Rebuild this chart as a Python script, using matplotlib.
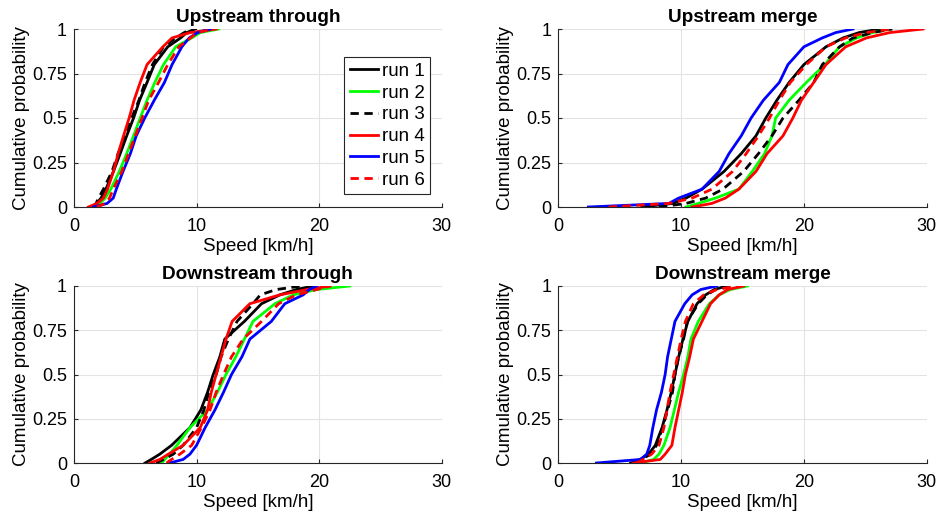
import matplotlib
matplotlib.use("Agg")
import matplotlib.pyplot as plt

plt.rcParams['font.family'] = ['Liberation Sans', 'DejaVu Sans']

# cumulative probability levels at which speeds were read
prob_levels = [0, 0.02, 0.05, 0.1, 0.2, 0.3, 0.4, 0.5, 0.6, 0.7, 0.8, 0.9, 0.95, 0.98, 1.0]
run_labels = ['run 1', 'run 2', 'run 3', 'run 4', 'run 5', 'run 6']
panel_titles = ['Upstream through', 'Upstream merge', 'Downstream through', 'Downstream merge']
x_ticks = [0, 10, 20, 30]
y_ticks = [0, 0.25, 0.5, 0.75, 1]
y_tick_labels = ['0', '0.25', '0.5', '0.75', '1']

# speed quantiles [km/h] per panel and run
up_through = {
    'run 1': [1.7, 1.86, 2.2, 2.6, 3.22, 3.77, 4.3, 4.86, 5.35, 5.96, 6.55, 7.65, 8.7, 9.2, 9.9],
    'run 2': [1.6, 2.1, 2.55, 3.0, 3.7, 4.3, 4.86, 5.4, 5.96, 6.6, 7.3, 8.3, 9.6, 10.3, 11.8],
    'run 3': [1.6, 1.8, 2.0, 2.4, 3.1, 3.6, 4.2, 4.7, 5.3, 5.8, 6.4, 7.3, 8.3, 9.0, 9.6],
    'run 4': [1.17, 1.86, 2.4, 2.73, 3.22, 3.6, 4.04, 4.5, 4.9, 5.4, 5.96, 7.25, 8.0, 9.5, 11.6],
    'run 5': [1.6, 2.7, 3.2, 3.45, 4.0, 4.6, 5.08, 5.77, 6.55, 7.38, 8.0, 8.8, 9.4, 10.1, 11.1],
    'run 6': [1.86, 2.55, 2.9, 3.2, 3.9, 4.45, 5.0, 5.55, 6.1, 6.9, 7.65, 8.55, 9.5, 10.05, 11.4],
}
up_merge = {
    'run 1': [6.8, 9.3, 10.4, 11.7, 13.5, 14.9, 16.1, 16.9, 17.8, 18.8, 20.0, 21.8, 23.2, 24.5, 26.2],
    'run 2': [10.4, 11.4, 12.8, 14.7, 15.8, 16.8, 17.4, 17.7, 18.8, 20.2, 21.7, 22.9, 24.3, 25.6, 27.0],
    'run 3': [8.2, 10.4, 12.0, 13.4, 15.1, 16.3, 17.4, 18.3, 19.6, 20.8, 21.5, 22.9, 24.0, 25.6, 27.2],
    'run 4': [10.9, 12.5, 13.6, 14.7, 16.1, 17.0, 18.3, 19.1, 19.8, 20.8, 21.8, 23.4, 25.1, 27.0, 29.7],
    'run 5': [2.45, 9.0, 9.8, 11.7, 13.1, 13.9, 14.9, 15.7, 16.7, 18.0, 18.7, 20.0, 21.5, 22.6, 24.0],
    'run 6': [4.1, 9.0, 10.9, 12.5, 14.2, 15.3, 16.3, 17.2, 18.0, 18.9, 20.2, 21.8, 23.4, 25.1, 27.2],
}
down_through = {
    'run 1': [5.8, 6.3, 7.0, 7.96, 9.46, 10.35, 10.9, 11.36, 11.9, 12.3, 13.9, 15.3, 16.8, 18.15, 19.5],
    'run 2': [7.15, 7.4, 7.8, 8.4, 9.46, 10.9, 11.7, 12.4, 13.2, 13.9, 14.6, 16.4, 17.9, 19.8, 22.5],
    'run 3': [6.7, 7.3, 8.1, 8.9, 10.0, 10.6, 11.0, 11.6, 12.0, 12.6, 13.3, 14.6, 15.2, 16.5, 18.6],
    'run 4': [6.2, 7.0, 7.7, 8.9, 10.3, 10.9, 11.2, 11.6, 12.0, 12.4, 12.9, 14.35, 16.8, 19.0, 20.9],
    'run 5': [7.8, 8.9, 9.46, 10.0, 10.7, 11.5, 12.2, 12.85, 13.7, 14.35, 16.1, 17.2, 18.7, 19.2, 19.8],
    'run 6': [7.55, 7.96, 8.64, 9.6, 10.4, 11.1, 11.6, 12.2, 12.85, 13.8, 15.3, 16.7, 18.15, 19.8, 20.9],
}
down_merge = {
    'run 1': [5.9, 6.67, 7.35, 7.9, 8.45, 8.85, 9.2, 9.5, 9.8, 10.15, 10.55, 11.3, 12.0, 12.7, 13.7],
    'run 2': [6.7, 7.76, 8.2, 8.6, 9.1, 9.45, 9.8, 10.2, 10.55, 10.8, 11.4, 12.3, 13.1, 14.0, 15.4],
    'run 3': [6.1, 6.8, 7.5, 8.0, 8.5, 8.9, 9.3, 9.5, 9.8, 10.2, 10.5, 11.4, 12.1, 12.8, 14.0],
    'run 4': [6.1, 8.3, 8.7, 9.25, 9.5, 9.8, 10.1, 10.35, 10.7, 11.0, 11.7, 12.4, 13.1, 13.8, 15.1],
    'run 5': [3.1, 6.7, 7.2, 7.45, 7.7, 8.0, 8.4, 8.7, 8.9, 9.2, 9.5, 10.3, 10.9, 11.6, 12.9],
    'run 6': [6.4, 6.9, 7.6, 8.2, 8.6, 8.85, 9.1, 9.4, 9.7, 10.0, 10.35, 11.0, 11.85, 12.9, 14.6],
}
panels = [up_through, up_merge, down_through, down_merge]

run_colors = {'run 1': '#000000', 'run 2': '#00ff00', 'run 3': '#000000',
              'run 4': '#ff0000', 'run 5': '#0000ff', 'run 6': '#ff0000'}
run_dashed = {'run 1': False, 'run 2': False, 'run 3': True,
              'run 4': False, 'run 5': False, 'run 6': True}

W, H = 937, 518
fig = plt.figure(figsize=(W / 100, H / 100), dpi=100)

# axes rectangles in pixels: (left, top, right, bottom)
rects = [(74, 29, 441.7, 207), (558.3, 29, 926.7, 207),
         (74, 286, 441.7, 463), (558.3, 286, 926.7, 463)]

axes = []
for (l, t, r, b), data, title in zip(rects, panels, panel_titles):
    ax = fig.add_axes([l / W, 1 - b / H, (r - l) / W, (b - t) / H])
    for run in run_labels:
        kw = dict(color=run_colors[run], linewidth=2.0, label=run)
        if run_dashed[run]:
            kw['linestyle'] = (0, (3, 2))
        ax.plot(data[run], prob_levels, **kw)
    ax.set_xlim(0, 30)
    ax.set_ylim(0, 1)
    ax.set_xticks(x_ticks)
    ax.set_yticks(y_ticks)
    ax.set_xticklabels([str(v) for v in x_ticks])
    ax.set_yticklabels(y_tick_labels)
    ax.grid(True, color='#e3e3e3', linewidth=0.8)
    ax.set_axisbelow(True)
    for s in ['top', 'right']:
        ax.spines[s].set_visible(False)
    for s in ['left', 'bottom']:
        ax.spines[s].set_color('#262626')
        ax.spines[s].set_linewidth(0.8)
    ax.tick_params(direction='in', length=3, width=0.8, colors='#262626',
                   labelsize=13, labelcolor='black')
    ax.tick_params(axis='x', pad=8)
    ax.tick_params(axis='y', pad=5)
    ax.set_title(title, fontsize=13.7, fontweight='bold', pad=5)
    ax.set_xlabel('Speed [km/h]', fontsize=13.5, labelpad=2)
    ax.set_ylabel('Cumulative probability', fontsize=13.5, labelpad=1.5)
    axes.append(ax)

leg = axes[0].legend(loc='upper left', bbox_to_anchor=((344 - 74) / 367.7, 1 - (57 - 29) / 178),
                     fontsize=13.5, frameon=True, fancybox=False, handlelength=1.5,
                     handletextpad=0.2, borderpad=0.3, labelspacing=0.25, borderaxespad=0)
leg.get_frame().set_edgecolor('#262626')
leg.get_frame().set_linewidth(0.8)
leg.get_frame().set_alpha(1)

fig.savefig('out.png', dpi=100)
